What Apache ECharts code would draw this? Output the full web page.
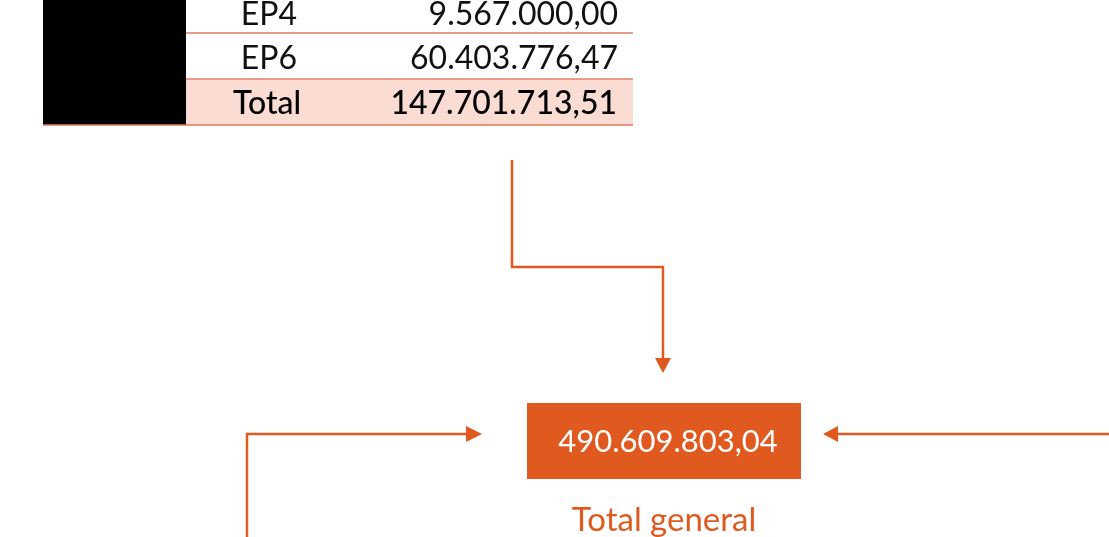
<!DOCTYPE html>
<html>
<head>
<meta charset="utf-8">
<script src="https://cdn.jsdelivr.net/npm/echarts@6/dist/echarts.min.js"></script>
<style>
  html, body { margin: 0; padding: 0; background: #fff; }
  #chart { width: 1109px; height: 537px; }
</style>
</head>
<body>
<div id="chart"></div>
<script>
var rowLabels = ['EP4', 'EP6'];
var rowValues = ['9.567.000,00', '60.403.776,47'];
var totalLabel = 'Total';
var totalValue = '147.701.713,51';
var grandTotal = '490.609.803,04';
var grandLabel = 'Total general';

(function() {
    var myChart = echarts.init(document.getElementById('chart'));
    var orange = '#e05a1f';
    var rule = '#e07a5f';
    var font = 'Lato, "Open Sans", sans-serif';
    var rowTop = [-12, 34];      // top of each row
    var rowH = 45;
    var g = [];

    // black block at the left of the table
    g.push({ type: 'rect', shape: { x: 43, y: 0, width: 143, height: 125 }, style: { fill: '#000' } });

    // total row background
    g.push({ type: 'rect', shape: { x: 186, y: 80, width: 447, height: 45 }, style: { fill: '#fadcd3' } });

    rowLabels.forEach(function(lbl, i) {
        var cy = rowTop[i] + rowH / 2 + (i === 0 ? 4 : 2);
        g.push({ type: 'text', style: { text: lbl, x: 269, y: cy, textAlign: 'center', textVerticalAlign: 'middle', fill: '#111', font: '32px ' + font } });
        g.push({ type: 'text', style: { text: rowValues[i], x: 618, y: cy, textAlign: 'right', textVerticalAlign: 'middle', fill: '#111', font: '32px ' + font } });
        var ly = rowTop[i] + rowH;
        g.push({ type: 'line', shape: { x1: 186, y1: ly, x2: 633, y2: ly }, style: { stroke: rule, lineWidth: 1.5 } });
    });

    g.push({ type: 'text', style: { text: totalLabel, x: 267, y: 104, textAlign: 'center', textVerticalAlign: 'middle', fill: '#000', font: '500 32px ' + font } });
    g.push({ type: 'text', style: { text: totalValue, x: 617, y: 104, textAlign: 'right', textVerticalAlign: 'middle', fill: '#000', font: '500 32px ' + font } });
    g.push({ type: 'line', shape: { x1: 43, y1: 125, x2: 633, y2: 125 }, style: { stroke: rule, lineWidth: 1.5 } });

    // connectors
    function path(pts) {
        g.push({ type: 'polyline', shape: { points: pts }, style: { stroke: orange, lineWidth: 2.5, fill: null } });
    }
    function tri(pts) {
        g.push({ type: 'polygon', shape: { points: pts }, style: { fill: orange } });
    }
    path([[512, 160], [512, 267], [663, 267], [663, 360]]);
    tri([[655, 358], [671, 358], [663, 373]]);

    path([[247, 537], [247, 434], [468, 434]]);
    tri([[466, 426], [466, 442], [482, 434]]);

    path([[1109, 434], [836, 434]]);
    tri([[838, 426], [838, 442], [823, 434]]);

    // total box
    g.push({ type: 'rect', shape: { x: 527, y: 403, width: 274, height: 76 }, style: { fill: orange } });
    g.push({ type: 'text', style: { text: grandTotal, x: 668, y: 442, textAlign: 'center', textVerticalAlign: 'middle', fill: '#fff', font: '31px ' + font } });
    g.push({ type: 'text', style: { text: grandLabel, x: 664, y: 520, textAlign: 'center', textVerticalAlign: 'middle', fill: orange, font: '33px ' + font } });

    var option = {
        animation: false,
        graphic: g
    };
    myChart.setOption(option);
})();
</script>
</body>
</html>
